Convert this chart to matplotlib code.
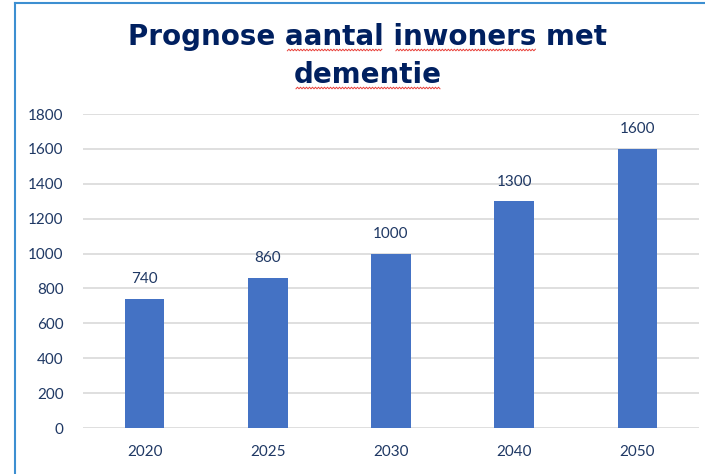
import numpy as np
import matplotlib.pyplot as plt
from matplotlib.lines import Line2D

years = ['2020', '2025', '2030', '2040', '2050']
inwoners = [740, 860, 1000, 1300, 1600]
yticks = [0, 200, 400, 600, 800, 1000, 1200, 1400, 1600, 1800]

title_lines = ['Prognose aantal inwoners met', 'dementie']
flagged = ['aantal', 'inwoners', 'dementie']   # words with the red spell-check wave

navy = '#002060'
label_c = '#1f3864'
bar_c = '#4472c4'
W, H = 705, 474

plt.rcParams['font.family'] = ['Lato', 'DejaVu Sans']

fig = plt.figure(figsize=(W/100, H/100), dpi=100)
ax = fig.add_axes([83/W, 1 - 428/H, 616/W, 314/H])

x = np.arange(len(years))
ax.bar(x, inwoners, width=0.32, color=bar_c, zorder=3)
for xi, v in zip(x, inwoners):
  ax.annotate(str(v), (xi, v), xytext=(0, 9), textcoords='offset points',
              ha='center', va='bottom', fontsize=11, color=label_c)

ax.set_xlim(-0.5, len(years) - 0.5)
ax.set_ylim(0, 1800)
ax.set_xticks(x)
ax.set_xticklabels(years)
ax.set_yticks(yticks)
ax.tick_params(axis='both', length=0, labelsize=11, labelcolor=label_c)
ax.tick_params(axis='x', pad=12)
ax.tick_params(axis='y', pad=14)
ax.grid(axis='y', color='#d9d9d9', linewidth=1.2, zorder=0)
for s in ax.spines.values():
  s.set_visible(False)

# title, two lines, plus the wavy underline under flagged words
tkw = dict(fontsize=20, fontweight='bold', color=navy, family='DejaVu Sans')
renderer = fig.canvas.get_renderer()
for line, base in zip(title_lines, [45, 83]):
  t = fig.text(368/W, 1 - base/H, line, ha='center', va='baseline', **tkw)
  bb = t.get_window_extent(renderer)
  words = line.split(' ')
  for i, w in enumerate(words):
    if w not in flagged:
      continue
    pre = ' '.join(words[:i]) + (' ' if i else '')
    tmp = fig.text(0, 0, pre + w, **tkw)
    x1 = bb.x0 + tmp.get_window_extent(renderer).width
    tmp.set_text(pre if pre else '')
    x0 = bb.x0 + (tmp.get_window_extent(renderer).width if pre else 0)
    tmp.remove()
    xs = np.arange(x0 + 2, x1 - 1, 1.5)
    ys = (H - base - 5) + np.where(np.arange(len(xs)) % 2, 0.8, -0.8)
    fig.add_artist(Line2D(xs / W, ys / H, color='#e8403a', linewidth=0.7))

# frame of the chart object (left and top edges)
fig.add_artist(Line2D([15/W, 15/W], [0, 1 - 3/H], color='#3d8fd1', linewidth=1.5))
fig.add_artist(Line2D([15/W, 1], [1 - 3/H, 1 - 3/H], color='#3d8fd1', linewidth=1.5))

fig.savefig('out.png', dpi=100)
